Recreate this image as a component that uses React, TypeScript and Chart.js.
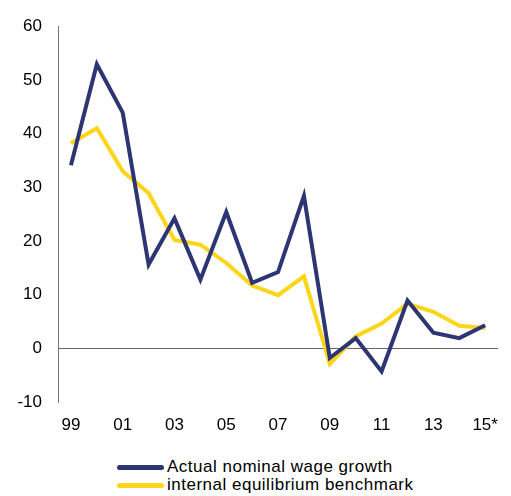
import React, { useEffect, useRef } from "react";
import { Chart, registerables } from "chart.js";

Chart.register(...registerables);

const years = ["99", "00", "01", "02", "03", "04", "05", "06", "07", "08", "09", "10", "11", "12", "13", "14", "15*"];
const actualWage = [34.1, 52.9, 43.9, 15.6, 24.2, 12.8, 25.4, 12.2, 14.2, 28.4, -1.8, 1.9, -4.3, 8.9, 2.9, 1.9, 4.3];
const benchmark = [38.2, 41.0, 33.0, 28.9, 20.2, 19.3, 15.9, 11.7, 9.9, 13.4, -2.9, 2.2, 4.6, 8.3, 6.8, 4.2, 3.8];
const seriesNames = ["Actual nominal wage growth", "internal equilibrium benchmark"];

const BLUE = "#2d3672";
const YELLOW = "#ffd51c";
const FONT = "Arial, 'Liberation Sans', sans-serif";

export default function App() {
  const ref = useRef<HTMLCanvasElement | null>(null);

  useEffect(() => {
    if (!ref.current) return;
    const chart = new Chart(ref.current, {
      type: "line",
      data: {
        labels: years,
        datasets: [
          { label: seriesNames[0], data: actualWage, borderColor: BLUE, backgroundColor: BLUE, borderWidth: 4, pointRadius: 0, tension: 0 },
          { label: seriesNames[1], data: benchmark, borderColor: YELLOW, backgroundColor: YELLOW, borderWidth: 4, pointRadius: 0, tension: 0 },
        ],
      },
      options: {
        animation: false,
        responsive: false,
        devicePixelRatio: 1,
        layout: { padding: { top: 20, right: 3, left: 0, bottom: 0 } },
        plugins: { legend: { display: false }, tooltip: { enabled: false } },
        scales: {
          x: {
            offset: true,
            grid: { display: false, drawTicks: false },
            border: { display: false },
            ticks: {
              autoSkip: false,
              maxRotation: 0,
              padding: 13,
              color: "#000",
              font: { family: FONT, size: 17 },
              callback: (_v: any, i: number) => (i % 2 === 0 ? years[i] : ""),
            },
            afterFit: (s: any) => { s.height = 38; },
          },
          y: {
            min: -10,
            max: 60,
            ticks: { stepSize: 10, padding: 16, color: "#000", font: { family: FONT, size: 17 } },
            grid: {
              drawTicks: false,
              color: (ctx: any) => (ctx.tick && ctx.tick.value === 0 ? "#666" : "rgba(0,0,0,0)"),
              lineWidth: 1,
            },
            border: { display: true, color: "#777", width: 1 },
            afterFit: (s: any) => { s.width = 58; },
          },
        },
      },
    });
    return () => chart.destroy();
  }, []);

  const legendRow = (color: string, text: string, top: number) => (
    <div style={{ position: "absolute", left: 117, top, display: "flex", alignItems: "center", height: 18 }}>
      <div style={{ width: 47, height: 5, background: color, borderRadius: 2.5 }} />
      <span style={{ marginLeft: 3, fontFamily: FONT, fontSize: 17, letterSpacing: "0.5px", color: "#000", lineHeight: "18px", whiteSpace: "nowrap" }}>{text}</span>
    </div>
  );

  return (
    <div style={{ position: "fixed", left: 0, top: 0, width: 511, height: 496, background: "#fff" }}>
      <canvas ref={ref} width={511} height={440} style={{ display: "block" }} />
      {legendRow(BLUE, seriesNames[0], 458)}
      {legendRow(YELLOW, seriesNames[1], 476)}
    </div>
  );
}
